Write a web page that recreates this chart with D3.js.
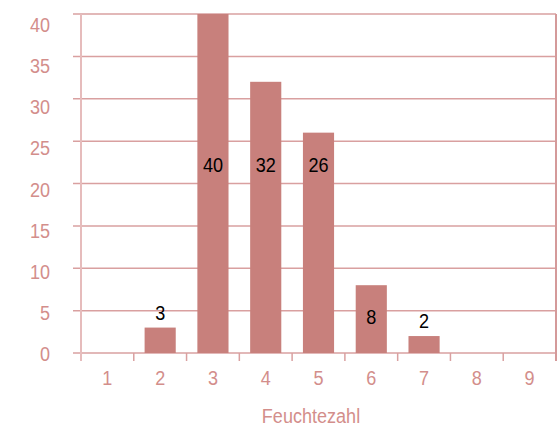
<!DOCTYPE html>
<html><head><meta charset="utf-8">
<script src="https://cdn.jsdelivr.net/npm/d3@7"></script>
<style>body{margin:0;background:#fff}</style>
</head><body>
<svg id="c" width="558" height="430"></svg>
<script>
const categories = ["1","2","3","4","5","6","7","8","9"];
const values = [0,3,40,32,26,8,2,0,0];
const yTicks = [0,5,10,15,20,25,30,35,40];
const xTitle = "Feuchtezahl";

const W=558,H=430, m={l:81,r:2,t:14,b:77};
const svg=d3.select("#c");
const font="'Liberation Sans',Arial,sans-serif";
const FS="21px";
const pink="#d38e8b", grid="#d9a0a0", bar="#c8807c";
const SX=0.86;
const x=d3.scaleBand().domain(categories).range([m.l,W-m.r]).paddingInner(0.41).paddingOuter(0.205);
const xb=d3.scaleBand().domain(categories).range([m.l,W-m.r]);
const y=d3.scaleLinear().domain([0,40]).range([H-m.b,m.t]);
// tick labels sit on a slightly compressed track
const yl=d3.scaleLinear().domain([0,40]).range([354,24.5]);

function place(sel,fx,fy){
  sel.attr("transform",(d,i)=>`translate(${fx(d,i)},${fy(d,i)}) scale(${SX},1)`);
}

// gridlines
svg.append("g").selectAll("line").data(yTicks).join("line")
 .attr("x1",m.l-8).attr("x2",W-m.r).attr("y1",d=>y(d)).attr("y2",d=>y(d))
 .attr("stroke",grid).attr("stroke-width",1.5);
// y labels
const yt=svg.append("g").selectAll("text").data(yTicks).join("text")
 .attr("text-anchor","end").attr("dy","0.35em")
 .style("font-family",font).style("font-size",FS).attr("fill",pink).text(d=>d);
place(yt,()=>50,d=>yl(d));
// bars
svg.append("g").selectAll("rect").data(values).join("rect")
 .attr("x",(d,i)=>x(categories[i])).attr("width",x.bandwidth())
 .attr("y",d=>y(d)).attr("height",d=>y(0)-y(d)).attr("fill",bar);
// left axis line & right border
svg.append("line").attr("x1",m.l).attr("x2",m.l).attr("y1",m.t).attr("y2",y(0)+8)
 .attr("stroke","#e6bcbc").attr("stroke-width",2);
svg.append("line").attr("x1",W-m.r).attr("x2",W-m.r).attr("y1",m.t).attr("y2",y(0)+8)
 .attr("stroke","#d49a9a").attr("stroke-width",2);
// x ticks
svg.append("g").selectAll("line").data(categories.slice(1)).join("line")
 .attr("x1",d=>xb(d)).attr("x2",d=>xb(d)).attr("y1",y(0)).attr("y2",y(0)+8)
 .attr("stroke",grid).attr("stroke-width",1.5);
// x labels
const xt=svg.append("g").selectAll("text").data(categories).join("text")
 .attr("text-anchor","middle").attr("dy","0.35em")
 .style("font-family",font).style("font-size",FS).attr("fill",pink).text(d=>d);
place(xt,d=>xb(d)+xb.bandwidth()/2,()=>377.5);
// title
const tt=svg.append("text").datum(xTitle).attr("text-anchor","middle").attr("dy","0.35em")
 .style("font-family",font).style("font-size",FS).attr("fill",pink).text(d=>d);
place(tt,()=>311,()=>415.5);
// value labels
function labelY(v){
  if(v<5) return y(v)-15;
  if(v<20) return y(v/2)-2;
  return y(22.2);
}
const vt=svg.append("g").selectAll("text").data(values.map((v,i)=>({v,c:categories[i]})).filter(d=>d.v>0)).join("text")
 .attr("text-anchor","middle").attr("dy","0.35em")
 .style("font-family",font).style("font-size",FS).attr("fill","#000").text(d=>d.v);
place(vt,d=>x(d.c)+x.bandwidth()/2,d=>labelY(d.v));
</script>
</body></html>
